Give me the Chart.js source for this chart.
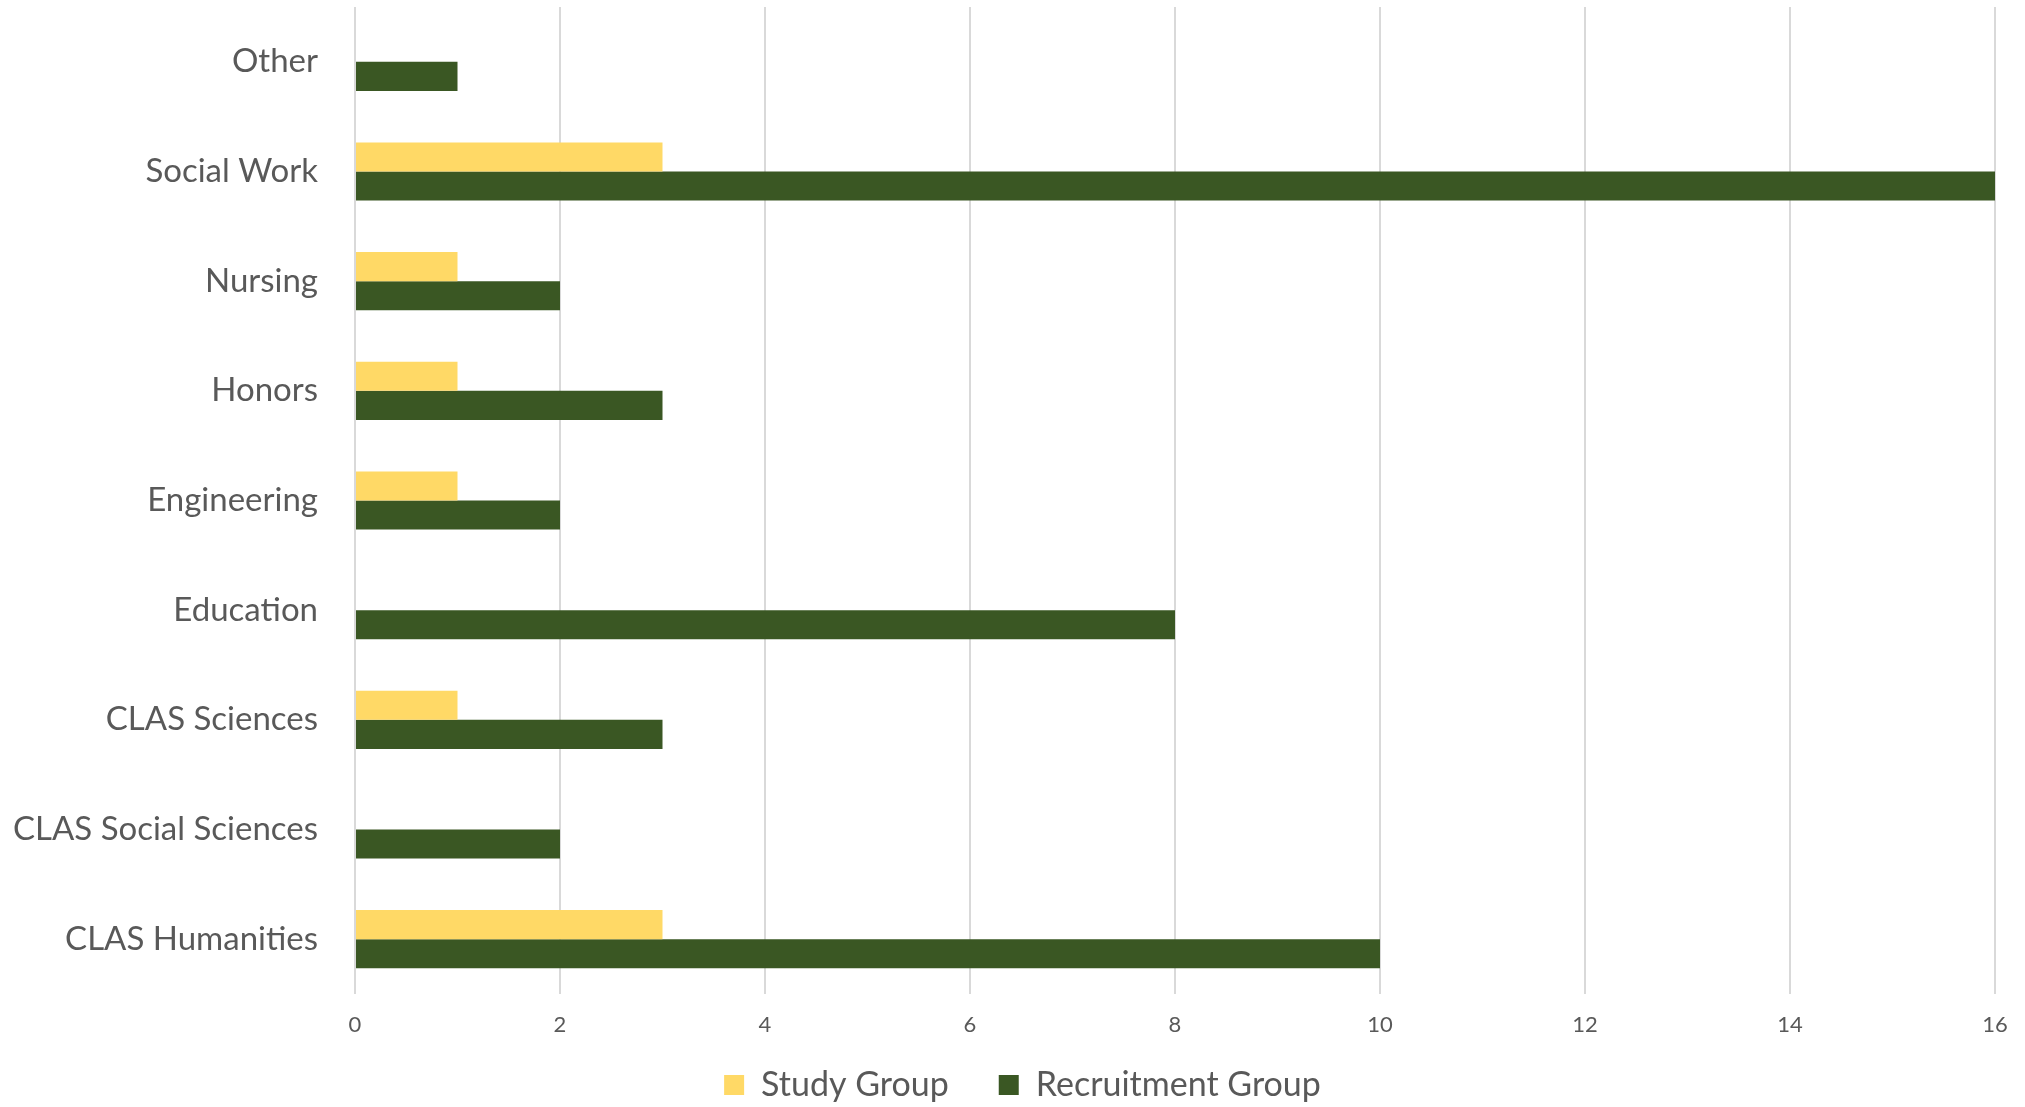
<!DOCTYPE html>
<html>
<head>
<meta charset="utf-8">
<script src="https://cdn.jsdelivr.net/npm/chart.js@4/dist/chart.umd.min.js"></script>
<style>
  html, body { margin: 0; padding: 0; background: #ffffff; }
  #wrap { width: 2025px; height: 1107px; position: relative; }
</style>
</head>
<body>
<div id="wrap"><canvas id="c" width="2025" height="1107"></canvas></div>
<script>
const categories = ["Other", "Social Work", "Nursing", "Honors", "Engineering", "Education", "CLAS Sciences", "CLAS Social Sciences", "CLAS Humanities"];
const studyGroup = [0, 3, 1, 1, 1, 0, 1, 0, 3];
const recruitmentGroup = [1, 16, 2, 3, 2, 8, 3, 2, 10];
const xTicks = [0, 2, 4, 6, 8, 10, 12, 14, 16];

const textColor = "#595959";
const fontFamily = "Lato, 'Open Sans', sans-serif";

// centre the legend row (Chart.js counts the trailing item gap in the row width)
const legendShift = {
  id: "legendShift",
  afterLayout(chart) {
    const lg = chart.legend;
    if (lg) {
      const pad = lg.options.labels.padding;
      lg.left += pad / 2;
      lg.right += pad / 2;
    }
  }
};

new Chart(document.getElementById("c"), {
  type: "bar",
  data: {
    labels: categories,
    datasets: [
      { label: "Study Group", data: studyGroup, backgroundColor: "#FFD966", borderWidth: 0,
        categoryPercentage: 0.53, barPercentage: 1.0 },
      { label: "Recruitment Group", data: recruitmentGroup, backgroundColor: "#3A5723", borderWidth: 0,
        categoryPercentage: 0.53, barPercentage: 1.0 }
    ]
  },
  plugins: [legendShift],
  options: {
    indexAxis: "y",
    responsive: false,
    animation: false,
    layout: { padding: { top: 7, right: 30, bottom: -5, left: 0 } },
    scales: {
      x: {
        min: 0, max: 16,
        afterBuildTicks: (scale) => { scale.ticks = xTicks.map(v => ({ value: v })); },
        grid: { color: "#d9d9d9", lineWidth: 2, drawTicks: false },
        border: { display: false },
        ticks: { color: textColor, font: { family: fontFamily, size: 22 }, padding: 18, maxRotation: 0 },
        afterFit: (scale) => {
          scale.height = 24; scale.paddingLeft = 0; scale.paddingRight = 0;
          scale._computeLabelArea = () => null;
        }
      },
      y: {
        grid: { display: false, drawTicks: false },
        border: { display: false },
        ticks: { color: textColor, font: { family: fontFamily, size: 33 }, padding: 37 },
        afterFit: (scale) => { scale.width = 355; scale.paddingTop = 0; scale.paddingBottom = 0; }
      }
    },
    plugins: {
      legend: {
        position: "bottom",
        labels: {
          color: textColor,
          font: { family: fontFamily, size: 34 },
          boxWidth: 20, boxHeight: 20, padding: 50
        }
      },
      tooltip: { enabled: false }
    }
  }
});
</script>
</body>
</html>
